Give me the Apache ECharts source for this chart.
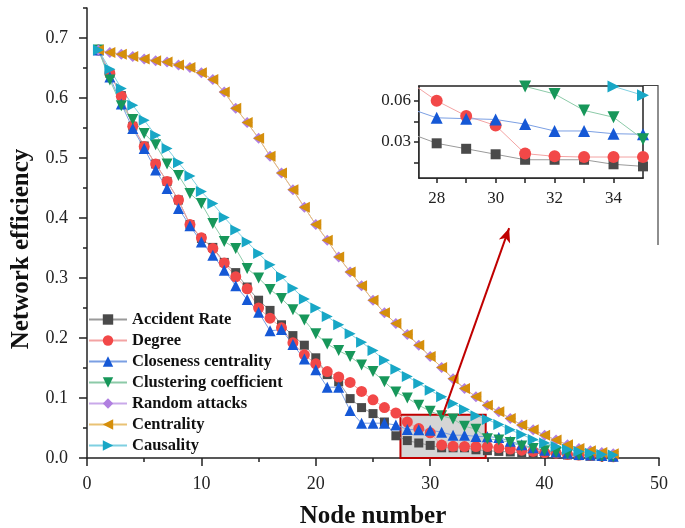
<!DOCTYPE html>
<html>
<head>
<meta charset="utf-8">
<script src="https://cdn.jsdelivr.net/npm/echarts@6/dist/echarts.min.js"></script>
<style>
html,body{margin:0;padding:0;background:#fff;}
#chart{width:685px;height:528px;}
</style>
</head>
<body>
<div id="chart"></div>
<script>
const nodes = [1,2,3,4,5,6,7,8,9,10,11,12,13,14,15,16,17,18,19,20,21,22,23,24,25,26,27,28,29,30,31,32,33,34,35,36,37,38,39,40,41,42,43,44,45,46];

const accidentRate = [0.68,0.641,0.604,0.553,0.52,0.49,0.461,0.43,0.389,0.366,0.351,0.326,0.309,0.285,0.263,0.246,0.222,0.204,0.188,0.167,0.139,0.127,0.099,0.084,0.074,0.06,0.037,0.029,0.025,0.021,0.017,0.017,0.017,0.0137,0.0122,0.011,0.01,0.009,0.008,0.007,0.006,0.005,0.004,0.003,0.003,0.002];

const degree = [0.68,0.641,0.603,0.553,0.519,0.49,0.461,0.43,0.389,0.367,0.349,0.325,0.302,0.282,0.25,0.233,0.217,0.192,0.172,0.157,0.144,0.135,0.126,0.111,0.097,0.084,0.075,0.06,0.049,0.042,0.0215,0.0195,0.019,0.019,0.019,0.017,0.015,0.013,0.011,0.009,0.008,0.006,0.005,0.004,0.003,0.002];

const closeness = [0.68,0.635,0.59,0.549,0.516,0.48,0.449,0.416,0.387,0.36,0.338,0.313,0.287,0.264,0.243,0.212,0.214,0.189,0.165,0.147,0.118,0.118,0.079,0.058,0.058,0.058,0.055,0.0476,0.047,0.0464,0.043,0.038,0.038,0.036,0.0356,0.034,0.028,0.022,0.017,0.013,0.01,0.008,0.006,0.005,0.004,0.003];

const clustering = [0.68,0.63,0.587,0.564,0.541,0.522,0.49,0.471,0.441,0.424,0.391,0.361,0.349,0.316,0.3,0.281,0.266,0.247,0.23,0.207,0.19,0.179,0.169,0.155,0.144,0.127,0.11,0.1,0.088,0.078,0.0705,0.065,0.053,0.048,0.032,0.03,0.026,0.02,0.016,0.012,0.009,0.007,0.005,0.004,0.003,0.002];

const randomAttacks = [0.68,0.676,0.673,0.669,0.665,0.662,0.66,0.655,0.651,0.642,0.631,0.61,0.583,0.559,0.533,0.503,0.475,0.447,0.418,0.389,0.363,0.335,0.31,0.287,0.263,0.242,0.224,0.206,0.188,0.169,0.151,0.132,0.116,0.102,0.088,0.077,0.066,0.055,0.047,0.038,0.03,0.022,0.016,0.012,0.009,0.007];

const centrality = [0.68,0.676,0.673,0.669,0.665,0.662,0.66,0.655,0.651,0.642,0.631,0.61,0.583,0.559,0.533,0.503,0.475,0.447,0.418,0.389,0.363,0.335,0.31,0.287,0.263,0.242,0.224,0.206,0.188,0.169,0.151,0.132,0.116,0.102,0.088,0.077,0.066,0.055,0.047,0.038,0.03,0.022,0.016,0.012,0.009,0.007];

const causality = [0.68,0.648,0.616,0.588,0.563,0.538,0.516,0.492,0.47,0.444,0.424,0.401,0.38,0.36,0.341,0.322,0.302,0.283,0.265,0.25,0.236,0.222,0.207,0.193,0.179,0.163,0.148,0.136,0.124,0.113,0.102,0.091,0.081,0.0705,0.064,0.056,0.047,0.039,0.031,0.025,0.019,0.014,0.011,0.008,0.006,0.005];

const yTicks = [0,0.1,0.2,0.3,0.4,0.5,0.6,0.7];
const insetXTicks = [28,29,30,31,32,33,34];
const insetXLabels = [28,30,32,34];
const insetYTicks = [0.015,0.03,0.045,0.06];
const insetYLabels = [0.03,0.06];

const defs = [
  {name:'Accident Rate', data:accidentRate, symbol:'rect', size:9, rot:0, color:'#4a4a4a', line:'#9a9a9a'},
  {name:'Degree', data:degree, symbol:'circle', size:11, rot:0, color:'#f24848', line:'#f3a3a3'},
  {name:'Closeness centrality', data:closeness, symbol:'triangle', size:11, rot:0, color:'#1558d6', line:'#7b9fe3'},
  {name:'Clustering coefficient', data:clustering, symbol:'triangle', size:11, rot:180, color:'#17975a', line:'#8ccaa8'},
  {name:'Random attacks', data:randomAttacks, symbol:'diamond', size:11, rot:0, color:'#b07fe0', line:'#c9a9ea'},
  {name:'Centrality', data:centrality, symbol:'triangle', size:11, rot:90, color:'#d58f0b', line:'#e9c274'},
  {name:'Causality', data:causality, symbol:'triangle', size:11, rot:-90, color:'#18a7c6', line:'#7fd0e1'}
];

const FONT = 'Liberation Serif';
const series = [];
defs.forEach(d => {
  const pts = nodes.map((n,i)=>[n, d.data[i]]);
  series.push({
    name:d.name, type:'line', xAxisIndex:0, yAxisIndex:0, data:pts,
    symbol:d.symbol, symbolSize:d.size, symbolRotate:d.rot,
    itemStyle:{color:d.color}, lineStyle:{color:d.line, width:1},
    showAllSymbol:true, animation:false, z:2
  });
});
defs.forEach(d => {
  const pts = nodes.map((n,i)=>[n, d.data[i]]);
  series.push({
    name:d.name, type:'line', xAxisIndex:1, yAxisIndex:2, data:pts,
    symbol:d.symbol, symbolSize:d.size+1, symbolRotate:d.rot,
    itemStyle:{color:d.color}, lineStyle:{color:d.line, width:1},
    showAllSymbol:true, clip:true, animation:false, z:6
  });
});
// zoom box and arrow annotation
series.push({
  name:'zoomBox', type:'line', xAxisIndex:0, yAxisIndex:0, data:[], z:4, animation:false,
  markArea:{silent:true, itemStyle:{color:'rgba(185,185,185,0.6)', borderColor:'#c00000', borderWidth:2},
    data:[[{coord:[27.4,0.072]},{coord:[34.85,0.0]}]]},
  markLine:{silent:true, symbol:['none','arrow'], symbolSize:[9,14],
    lineStyle:{color:'#c00000', width:2, type:'solid'}, label:{show:false},
    data:[[{coord:[31.1,0.072]},{coord:[36.9,0.383]}]]}
});

const chart = echarts.init(document.getElementById('chart'), null, {renderer:'canvas'});
chart.setOption({
  backgroundColor:'#fff',
  animation:false,
  textStyle:{fontFamily:FONT},
  grid:[
    {left:87, right:26, top:8, bottom:70, containLabel:false, outerBoundsMode:'none'},
    {left:419, top:86, width:224, height:92, show:true, borderColor:'#222', borderWidth:1.5, backgroundColor:'#fff', z:5, outerBoundsMode:'none'}
  ],
  legend:{
    data:defs.map(d=>d.name), orient:'vertical', left:88, top:311, padding:0,
    itemWidth:38, itemHeight:13, itemGap:4,
    textStyle:{fontFamily:FONT, fontWeight:'bold', fontSize:16.5, color:'#111'},
    backgroundColor:'transparent', z:8
  },
  xAxis:[
    {type:'value', gridIndex:0, min:0, max:50, interval:10,
     axisLine:{lineStyle:{color:'#222', width:1.5}},
     axisTick:{length:8, lineStyle:{color:'#222', width:1.5}},
     minorTick:{show:true, splitNumber:2, length:4, lineStyle:{color:'#222', width:1.5}},
     splitLine:{show:false},
     axisLabel:{fontFamily:FONT, fontSize:18, color:'#222', margin:17},
     name:'Node number', nameLocation:'middle', nameGap:46,
     nameTextStyle:{fontFamily:FONT, fontWeight:'bold', fontSize:25, color:'#111'}},
    {type:'value', gridIndex:1, min:27.4, max:35,
     axisLine:{onZero:false, lineStyle:{color:'#222', width:1.5}},
     axisTick:{customValues:insetXTicks, length:5, lineStyle:{color:'#222', width:1.5}},
     axisLabel:{customValues:insetXLabels, fontFamily:FONT, fontSize:17, color:'#222', margin:12},
     splitLine:{show:false}}
  ],
  yAxis:[
    {type:'value', gridIndex:0, min:0, max:0.75, position:'left',
     axisLine:{lineStyle:{color:'#222', width:1.5}},
     axisTick:{customValues:yTicks, length:8, lineStyle:{color:'#222', width:1.5}},
     axisLabel:{customValues:yTicks, fontFamily:FONT, fontSize:18, color:'#222', margin:19,
       formatter:v=>v.toFixed(1)},
     splitLine:{show:false}},
    {type:'value', gridIndex:0, min:0, max:0.75, interval:0.05, position:'left', offset:0,
     axisLine:{show:false}, axisLabel:{show:false}, splitLine:{show:false},
     axisTick:{length:4, lineStyle:{color:'#222', width:1.5}}},
    {type:'value', gridIndex:1, min:0.0037, max:0.0708, position:'left',
     axisLine:{onZero:false, lineStyle:{color:'#222', width:1.5}},
     axisTick:{customValues:insetYTicks, length:5, lineStyle:{color:'#222', width:1.5}},
     axisLabel:{customValues:insetYLabels, fontFamily:FONT, fontSize:17, color:'#222', margin:8,
       formatter:v=>v.toFixed(2)},
     splitLine:{show:false}}
  ],
  graphic:[
    {type:'text', x:22, y:249, rotation:Math.PI/2, z:10,
     style:{text:'Network efficiency', fontFamily:FONT, fontWeight:'bold', fontSize:25, fill:'#111', align:'center', verticalAlign:'middle'}},
    {type:'polyline', z:10, shape:{points:[[643,85.5],[658,85.5],[658,245]]}, style:{stroke:'#444', lineWidth:1.2, fill:null}}
  ],
  series:series
});
</script>
</body>
</html>
